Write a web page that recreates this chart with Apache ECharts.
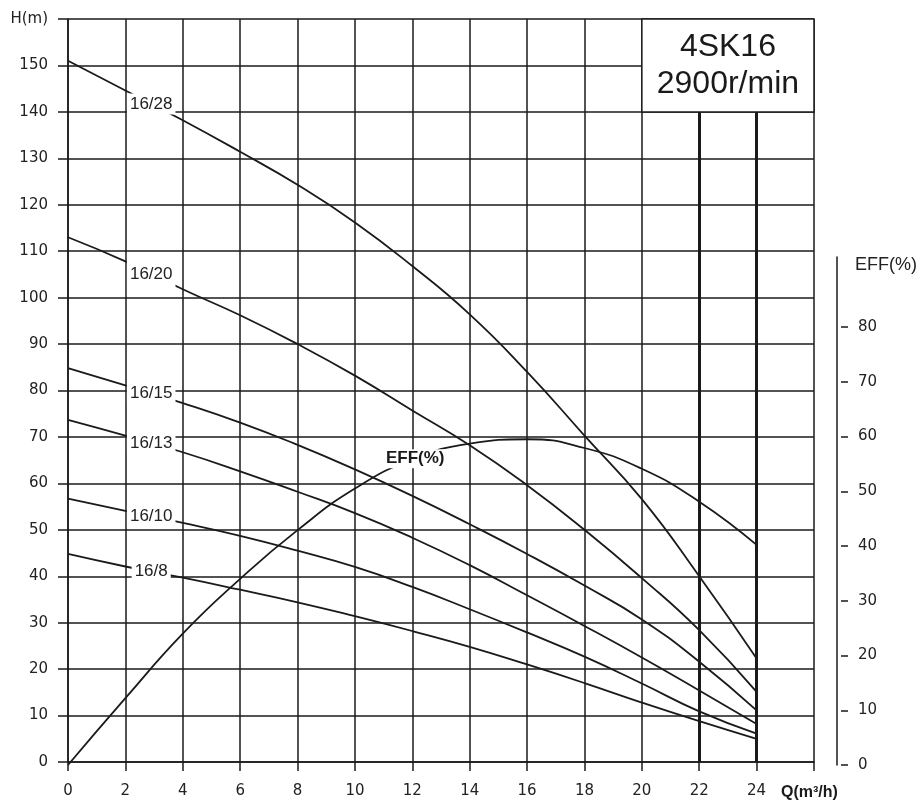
<!DOCTYPE html>
<html>
<head>
<meta charset="utf-8">
<script src="https://cdn.jsdelivr.net/npm/echarts@6/dist/echarts.min.js"></script>
<style>
html,body{margin:0;padding:0;background:#fff;}
#chart{width:920px;height:801px;}
</style>
</head>
<body>
<div id="chart"></div>
<script>
// ---- data ----
const flow = [0, 2, 4, 6, 8, 10, 12, 14, 16, 18, 20, 22, 24];           // Q (m3/h)
const curveNames = ['16/28', '16/20', '16/15', '16/13', '16/10', '16/8'];
const head_16_28 = [151, 144.6, 138.2, 131.4, 124.3, 116.2, 106.8, 96.4, 84, 70.3, 56.6, 40, 22.3];
const head_16_20 = [113, 107.8, 101.8, 96.2, 90, 83.2, 75.7, 68.2, 59.6, 50, 39.6, 28.4, 15.1];
const head_16_15 = [84.8, 81.1, 77.3, 73.1, 68.3, 63, 57.3, 51.2, 44.8, 38, 30.7, 21.6, 11.1];
const head_16_13 = [73.7, 70.3, 66.7, 62.6, 58.2, 53.6, 48.3, 42.4, 35.9, 29.3, 22.5, 15.4, 8.2];
const head_16_10 = [56.7, 54.1, 51.5, 48.7, 45.5, 42, 37.7, 32.9, 27.9, 22.7, 16.9, 10.9, 6.1];
const head_16_8  = [44.8, 42.1, 39.7, 37.1, 34.4, 31.4, 28.2, 24.8, 21, 17, 12.8, 8.8, 5.0];
const effPct     = [0, 12.2, 24.0, 34.0, 42.9, 50.5, 55.8, 58.7, 59.5, 57.9, 54.1, 48.1, 40.2];
const headTicks = [0, 10, 20, 30, 40, 50, 60, 70, 80, 90, 100, 110, 120, 130, 140, 150];
const effTicks = [0, 10, 20, 30, 40, 50, 60, 70, 80];
const modelName = '4SK16';
const speedText = '2900r/min';
const headName = 'H(m)';
const flowName = 'Q(m³/h)';
const effName = 'EFF(%)';

const heads = [head_16_28, head_16_20, head_16_15, head_16_13, head_16_10, head_16_8];

function interp(xs, ys, x) {
  for (let i = 0; i < xs.length - 1; i++) {
    if (x >= xs[i] && x <= xs[i + 1]) {
      const t = (x - xs[i]) / (xs[i + 1] - xs[i]);
      return ys[i] + t * (ys[i + 1] - ys[i]);
    }
  }
  return ys[ys.length - 1];
}

const INK = '#1a1a1a';
const TXT = '#222';
const TICK_FONT = 'DejaVu Sans';
const LBL_FONT = 'Liberation Sans';
const labelX = 2.9;
const labelPad = {'16/20': [23, 3, 2, 3]};

const series = heads.map((h, i) => ({
  type: 'line',
  name: curveNames[i],
  xAxisIndex: 0, yAxisIndex: 0,
  data: flow.map((x, j) => [x, h[j]]),
  smooth: 0.5,
  symbol: 'none',
  lineStyle: {color: INK, width: 1.8},
  z: 3,
  markPoint: {
    symbol: 'rect', symbolSize: 1,
    itemStyle: {color: 'rgba(0,0,0,0)'},
    silent: true,
    label: {
      show: true, position: 'inside',
      formatter: curveNames[i],
      fontFamily: LBL_FONT, fontSize: 17, lineHeight: 17, color: TXT,
      backgroundColor: '#fff',
      padding: labelPad[curveNames[i]] || [2, 3, 2, 3]
    },
    data: [{name: curveNames[i], coord: [labelX, interp(flow, h, labelX)]}]
  }
}));

// box + bold vertical lines
series[0].markArea = {
  silent: true,
  z: 1,
  itemStyle: {color: '#fff', borderColor: INK, borderWidth: 1.5},
  label: {
    show: true, position: 'inside',
    formatter: modelName + '\n' + speedText,
    fontFamily: LBL_FONT, fontSize: 32, lineHeight: 37, color: INK
  },
  data: [[{coord: [20, 140]}, {coord: [26, 160]}]]
};
series[0].markLine = {
  silent: true,
  symbol: ['none', 'none'],
  label: {show: false},
  lineStyle: {type: 'solid', width: 3, color: INK},
  data: [
    [{coord: [22, 0]}, {coord: [22, 140]}],
    [{coord: [24, 0]}, {coord: [24, 140]}]
  ]
};

series.push({
  type: 'line',
  name: effName,
  xAxisIndex: 2, yAxisIndex: 3,
  data: flow.map((x, j) => [x, effPct[j]]),
  smooth: 0.5,
  symbol: 'none',
  lineStyle: {color: INK, width: 1.8},
  z: 3,
  markPoint: {
    symbol: 'rect', symbolSize: 1,
    itemStyle: {color: 'rgba(0,0,0,0)'},
    silent: true,
    label: {
      show: true, position: 'inside',
      formatter: effName,
      fontFamily: LBL_FONT, fontSize: 17, fontWeight: 'bold', color: INK,
      backgroundColor: '#fff', padding: [1, 2, 1, 2]
    },
    data: [{name: effName, coord: [12.1, interp(flow, effPct, 12.1)]}]
  }
});

const gridLine = {show: true, lineStyle: {color: INK, width: 1.5}};

const option = {
  animation: false,
  backgroundColor: '#fff',
  grid: [
    {left: 68, right: 106, top: 19, bottom: 36},
    {left: 68, right: 106, top: 257, bottom: 36},
    {left: 68, right: 106, top: 327, bottom: 36}
  ],
  xAxis: [
    {
      gridIndex: 0, type: 'value', min: 0, max: 26, interval: 2,
      axisLine: {show: true, onZero: false, lineStyle: {color: INK, width: 1.5}},
      axisTick: {show: true, length: 9, lineStyle: {color: INK, width: 1.5}},
      axisLabel: {
        margin: 22, fontFamily: TICK_FONT, fontSize: 15, color: TXT,
        formatter: v => (flow.indexOf(v) >= 0 ? String(v) : '')
      },
      splitLine: gridLine,
      name: flowName, nameLocation: 'end', nameGap: -33,
      nameTextStyle: {
        fontFamily: LBL_FONT, fontSize: 16, fontWeight: 'bold', color: INK,
        align: 'left', verticalAlign: 'top', padding: [23, 0, 0, 0]
      }
    },
    {gridIndex: 1, type: 'value', min: 0, max: 26, show: false},
    {gridIndex: 2, type: 'value', min: 0, max: 26, show: false}
  ],
  yAxis: [
    {
      gridIndex: 0, type: 'value', min: 0, max: 160, interval: 10,
      axisLine: {show: true, onZero: false, lineStyle: {color: INK, width: 1.5}},
      axisTick: {show: true, length: 10, lineStyle: {color: INK, width: 1.5}},
      axisLabel: {
        margin: 20, fontFamily: TICK_FONT, fontSize: 15, color: TXT,
        formatter: v => (headTicks.indexOf(v) >= 0 ? String(v) : (v === 160 ? headName : ''))
      },
      splitLine: gridLine
    },
    {
      gridIndex: 1, type: 'value', position: 'right', offset: 23, min: 0, max: 1,
      axisLine: {show: true, onZero: false, lineStyle: {color: INK, width: 1.5}},
      axisTick: {show: false}, axisLabel: {show: false}, splitLine: {show: false},
      name: effName, nameLocation: 'end', nameGap: -8,
      nameTextStyle: {
        fontFamily: LBL_FONT, fontSize: 18, color: TXT,
        align: 'left', verticalAlign: 'middle', padding: [0, 0, 0, 18]
      }
    },
    {
      gridIndex: 2, type: 'value', position: 'right', offset: 27, min: 0, max: 80, interval: 10,
      axisLine: {show: false, onZero: false},
      axisTick: {show: true, length: 7, lineStyle: {color: INK, width: 1.5}},
      axisLabel: {
        margin: 17, fontFamily: TICK_FONT, fontSize: 15, color: TXT,
        formatter: v => (effTicks.indexOf(v) >= 0 ? String(v) : '')
      },
      splitLine: {show: false}
    },
    {
      gridIndex: 2, type: 'value', position: 'right', min: 0, max: 80, show: false
    }
  ],
  series: series
};

const chart = echarts.init(document.getElementById('chart'), null, {renderer: 'canvas'});
chart.setOption(option);
</script>
</body>
</html>
